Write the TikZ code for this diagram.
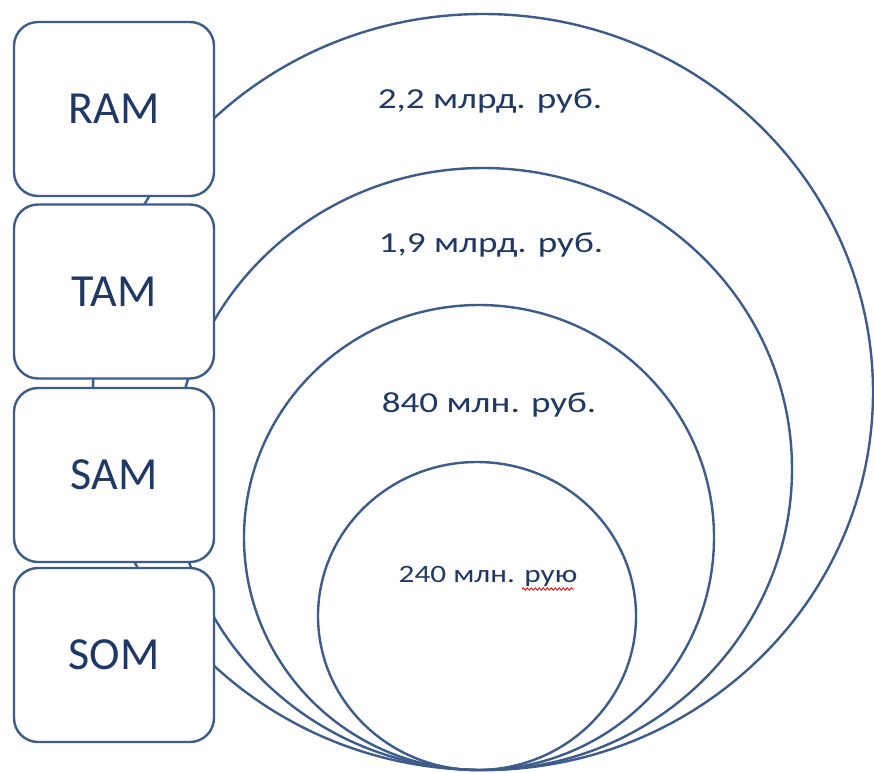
\documentclass[tikz,border=0pt]{standalone}
\usepackage{fontspec}
\setmainfont{Carlito}
\usetikzlibrary{decorations.pathmorphing}
\definecolor{lineblue}{HTML}{3E5C8A}
\definecolor{textblue}{HTML}{1F3864}
\begin{document}
\begin{tikzpicture}[x=1pt,y=-1pt,
  ring/.style={draw=lineblue,line width=2.4pt},
  mbox/.style={draw=lineblue,line width=2.4pt,fill=white,rounded corners=24pt,
    minimum width=200pt,minimum height=174pt,inner sep=0pt,
    text=textblue,font=\fontsize{46}{52}\selectfont},
  vlabel/.style={text=textblue,font=\fontsize{29}{34}\selectfont,inner sep=0pt,xscale=1.28},
  slabel/.style={text=textblue,font=\fontsize{25}{30}\selectfont,inner sep=0pt,xscale=1.25}]
\useasboundingbox (0,0) rectangle (874,772);
\fill[white] (0,0) rectangle (874,772);
% nested markets
\draw[ring] (483,392) ellipse [x radius=390, y radius=378];
\draw[ring] (483,469) ellipse [x radius=309, y radius=301];
\draw[ring] (479,537.5) ellipse [x radius=235, y radius=232.5];
\draw[ring] (477,616) ellipse [x radius=159, y radius=154];
% boxes
\node[mbox] (ram) at (114,109) {RAM};
\node[mbox] (tam) at (114,291.5) {TAM};
\node[mbox] (sam) at (114,475) {SAM};
\node[mbox] (som) at (114,655) {SOM};
% values
\node[vlabel] (v1) at (490,101) {2,2 млрд. руб.};
\node[vlabel] (v2) at (491,245) {1,9 млрд. руб.};
\node[vlabel] (v3) at (489,405) {840 млн. руб.};
\node[slabel] (v4) at (488,576) {240 млн. рую};
\coordinate (sqa) at (522,589);
\coordinate (sqb) at (574,589);
\draw[red,line width=0.8pt,decorate,decoration={snake,amplitude=1.2pt,segment length=4pt}] (sqa) -- (sqb);
\end{tikzpicture}
\end{document}
